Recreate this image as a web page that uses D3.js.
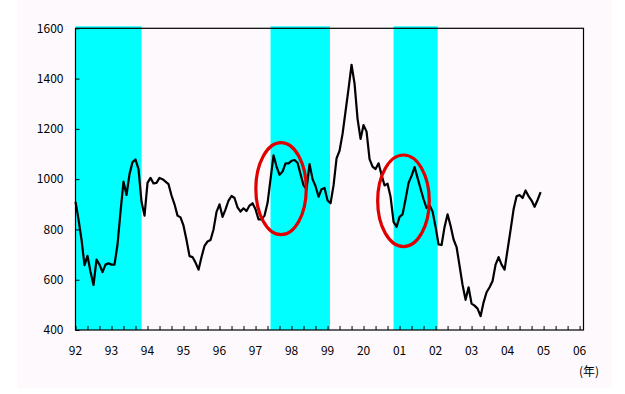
<!DOCTYPE html>
<html>
<head>
<meta charset="utf-8">
<script src="https://cdn.jsdelivr.net/npm/d3@7"></script>
<style>
  body { margin: 0; background: #ffffff; }
  text { font-family: "Noto Sans CJK JP", "DejaVu Sans", sans-serif; }
</style>
</head>
<body>
<div id="chart"></div>
<script>
/** data: monthly values from 1992/01 **/
var values = [
  910, 840, 760, 658, 695, 632, 579, 680, 660, 630, 660, 665,
  660, 660, 740, 870, 990, 937, 1020, 1068, 1078, 1040, 910, 855,
  985, 1005, 983, 985, 1005, 1000, 990, 980, 935, 900, 855, 848,
  815, 758, 694, 690, 668, 640, 690, 735, 752, 758, 800, 870,
  900, 850, 880, 915, 933, 925, 888, 871, 884, 873, 895, 904,
  880, 840, 840, 855, 905, 1000, 1095, 1050, 1017, 1030, 1063, 1063,
  1073, 1076, 1065, 1020, 975, 960, 1060, 1000, 972, 930, 960, 965,
  915, 904, 975, 1083, 1113, 1180, 1270, 1360, 1455, 1380, 1240, 1160,
  1215, 1189, 1080, 1050, 1040, 1063, 1017, 975, 982, 930, 830, 810,
  850, 860, 920, 985, 1013, 1048, 1005, 962, 920, 885, 896, 871,
  810, 740, 738, 810, 860, 815, 760, 730, 655, 579, 520, 570,
  505, 497, 485, 455, 510, 550, 570, 595, 660, 690, 660, 640,
  720, 798, 880, 932, 937, 925, 955, 932, 915, 890, 917, 948
];
var yearLabels = ["92","93","94","95","96","97","98","99","20","01","02","03","04","05","06"];
var yTicks = [400, 600, 800, 1000, 1200, 1400, 1600];
/** recession bands, month index from 1992/01 **/
var bandStart = [0, 65, 106];
var bandEnd = [22, 84.8, 120.7];
/** red circles: centre month, centre value, half width (months), half height (value) **/
var circleMonth = [68.5, 109.3];
var circleValue = [962, 914];
var circleRx = [8.4, 8.6];
var circleRy = [183, 182];

var svg = d3.select("#chart").append("svg")
            .attr("width", 625)
            .attr("height", 394);

svg.append("rect")
   .attr("x", 17).attr("y", 0)
   .attr("width", 595).attr("height", 388)
   .style("fill", "#fdf9fd");

var x = d3.scaleLinear().domain([0, 169.3]).range([75.5, 583.5]);
var y = d3.scaleLinear().domain([400, 1600]).range([330, 28.3]);

/** cyan bands **/
svg.selectAll(".band")
   .data(bandStart)
   .enter().append("rect")
   .attr("class", "band")
   .attr("x", function(d) { return x(d); })
   .attr("y", y(1600) - 2)
   .attr("width", function(d, i) { return x(bandEnd[i]) - x(d); })
   .attr("height", y(400) - y(1600) + 2)
   .style("fill", "#00ffff");

/** frame **/
svg.append("rect")
   .attr("x", x(0)).attr("y", y(1600))
   .attr("width", x(169.3) - x(0))
   .attr("height", y(400) - y(1600))
   .style("fill", "none")
   .style("stroke", "#000")
   .style("stroke-width", 1.2);

/** y axis **/
var yAxis = d3.axisLeft(y).tickValues(yTicks).tickSize(-4).tickPadding(12).tickFormat(d3.format("d"));
var gy = svg.append("g").attr("transform", "translate(" + x(0) + ",0)").call(yAxis);
gy.select(".domain").remove();
gy.selectAll("text").style("font-size", "12px").style("fill", "#000")
  .style("font-family", "'Noto Sans CJK JP', sans-serif");

/** x axis, tick every 4 months **/
var xAxis = d3.axisBottom(x).tickValues(d3.range(0, 169, 4)).tickSize(-4).tickFormat("");
var gx = svg.append("g").attr("transform", "translate(0," + y(400) + ")").call(xAxis);
gx.select(".domain").remove();

svg.selectAll(".year")
   .data(yearLabels)
   .enter().append("text")
   .attr("class", "year")
   .attr("x", function(d, i) { return x(i * 12); })
   .attr("y", 355)
   .attr("text-anchor", "middle")
   .style("font-size", "12px")
   .text(function(d) { return d; });

svg.append("text")
   .attr("x", 589).attr("y", 376)
   .attr("text-anchor", "middle")
   .style("font-size", "12px")
   .text("(年)");

/** line **/
var line = d3.line()
             .x(function(d, i) { return x(i); })
             .y(function(d) { return y(d); });

svg.append("path")
   .datum(values)
   .attr("d", line)
   .style("fill", "none")
   .style("stroke", "#000")
   .style("stroke-width", 2.2)
   .style("stroke-linejoin", "round");

/** red circles **/
svg.selectAll(".mark")
   .data(circleMonth)
   .enter().append("ellipse")
   .attr("class", "mark")
   .attr("cx", function(d) { return x(d); })
   .attr("cy", function(d, i) { return y(circleValue[i]); })
   .attr("rx", function(d, i) { return x(circleRx[i]) - x(0); })
   .attr("ry", function(d, i) { return y(400) - y(400 + circleRy[i]); })
   .style("fill", "none")
   .style("stroke", "#e00000")
   .style("stroke-width", 3.2);
</script>
</body>
</html>
